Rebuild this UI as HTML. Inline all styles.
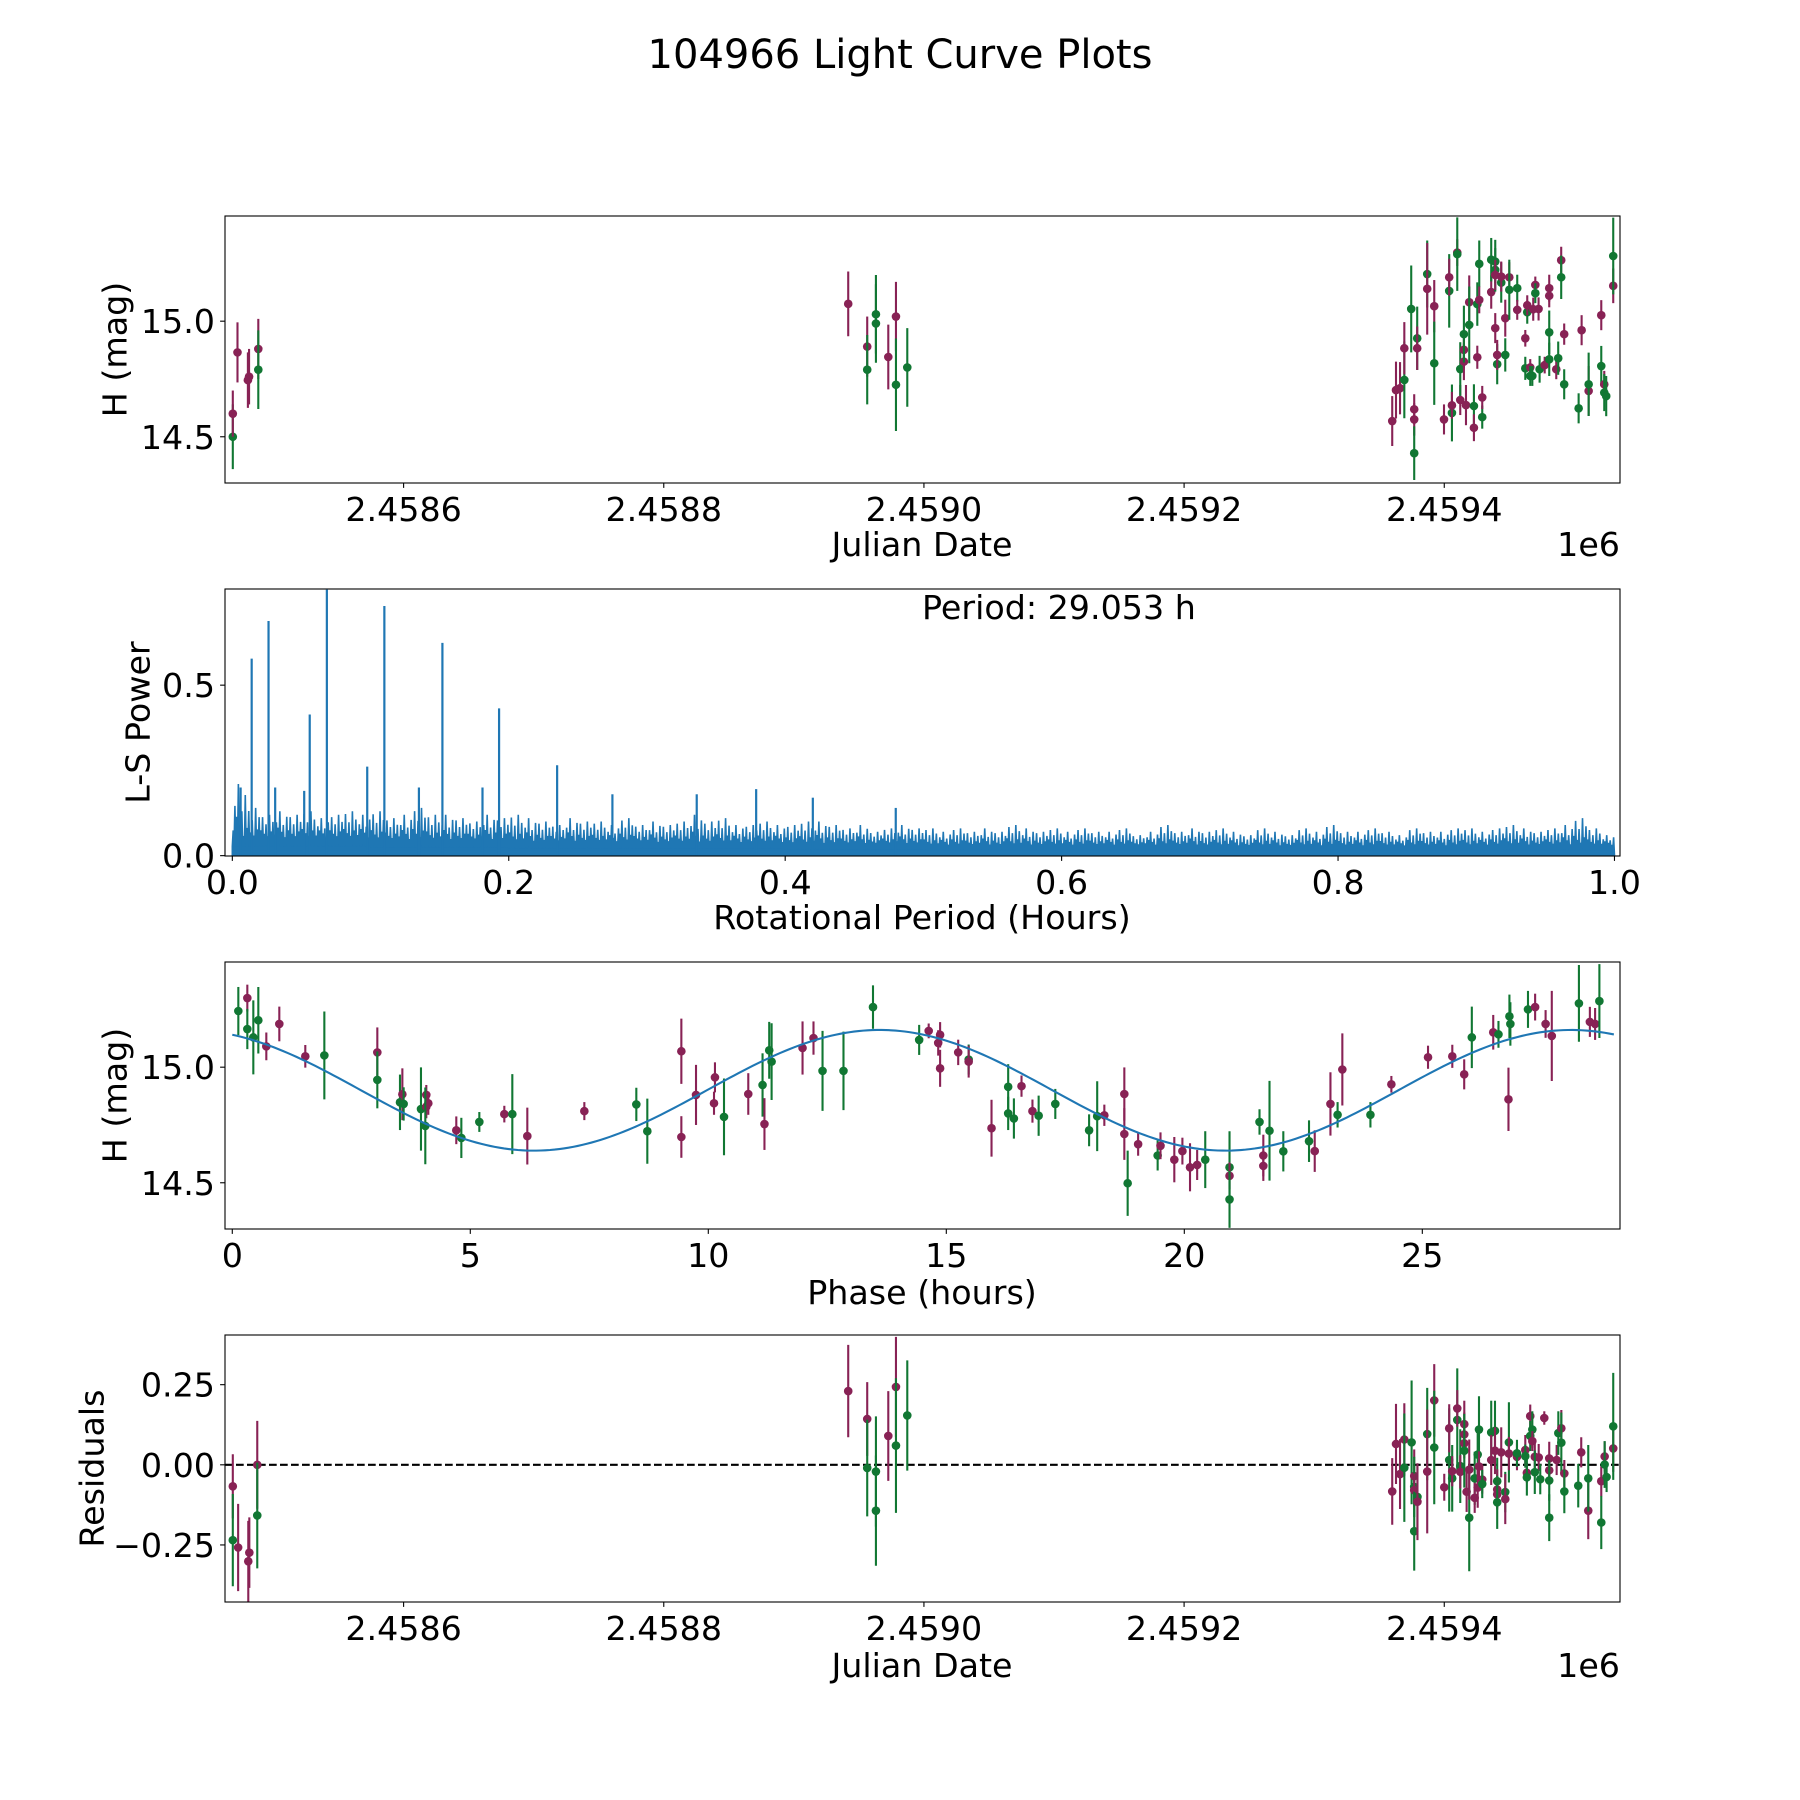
<!DOCTYPE html>
<html><head><meta charset="utf-8"><style>
html,body{margin:0;padding:0;background:#fff;}
svg{display:block;}
text{font-family:"DejaVu Sans","Liberation Sans",sans-serif;fill:#000;}
</style></head>
<body>
<svg id="fig" width="1800" height="1800" viewBox="0 0 1800 1800" xmlns="http://www.w3.org/2000/svg">
<rect width="1800" height="1800" fill="#fff"/>
<text x="900" y="68" font-size="40" text-anchor="middle">104966 Light Curve Plots</text>
<text x="922" y="619" font-size="33.3">Period: 29.053 h</text>
</svg>
<script>
// ---------- data ----------
const JD0 = 2459400;
const lcDays = [-931.3,-931.3,-927.7,-919.7,-918.8,-911.7,-911.7,
 -458.2,-443.6,-443.6,-436.9,-436.9,-427.4,-421.5,-421.5,-412.8,
 -40.0,-37.1,-34.0,-30.7,-30.7,-25.4,-23.1,-23.1,-23.1,-20.8,-20.8,-13.1,-13.1,-7.7,-7.7,-0.2,
 3.8,3.8,5.9,5.9,10,10,12.3,12.3,15.1,15.1,15.1,16.7,19.2,19.2,22.8,22.8,25.4,25.4,26.9,26.9,
 29.2,29.2,36.1,36.1,39.2,39.2,39.2,39.2,40.7,40.7,43.8,43.8,46.9,46.9,50,50,56.1,56.1,
 62.3,62.3,63.8,63.8,66.1,66.1,67.7,68.4,70,70,72.5,73.3,77.2,80.7,80.7,80.7,80.7,
 86.1,87.6,89.9,89.9,92.2,92.2,103.3,105.6,111,111,120.7,120.7,123,123,124.5,129.9,129.9];
const lcMag = [14.50,14.60,14.865,14.745,14.76,14.88,14.79,
 15.075,14.89,14.79,15.03,14.99,14.845,15.02,14.725,14.80,
 14.568,14.702,14.71,14.746,14.883,15.053,14.619,14.575,14.429,14.926,14.883,15.204,15.14,15.065,14.818,14.575,
 15.131,15.19,14.603,14.636,15.297,15.29,14.659,14.793,14.876,14.825,14.944,14.637,15.082,14.984,14.633,14.539,14.844,15.074,15.248,15.092,
 14.585,14.67,15.126,15.266,15.258,15.222,14.97,15.20,14.814,14.854,15.167,15.193,15.013,14.854,15.19,15.136,15.143,15.049,
 14.926,14.796,15.039,15.069,14.80,14.763,14.763,15.052,15.157,15.121,15.053,14.792,14.81,14.952,15.143,15.11,14.835,
 14.792,14.84,15.264,15.19,14.944,14.727,14.623,14.961,14.698,14.727,15.026,14.806,14.727,14.691,14.676,15.153,15.282];
const lcErr = [0.14,0.10,0.13,0.12,0.12,0.13,0.17,
 0.14,0.13,0.15,0.17,0.17,0.14,0.15,0.20,0.17,
 0.108,0.123,0.113,0.166,0.113,0.188,0.065,0.07,0.116,0.137,0.094,0.145,0.198,0.113,0.18,0.065,
 0.159,0.08,0.123,0.058,0.058,0.159,0.065,0.116,0.08,0.08,0.123,0.087,0.116,0.166,0.094,0.058,0.05,0.094,0.101,0.058,
 0.05,0.05,0.072,0.094,0.094,0.094,0.065,0.065,0.087,0.065,0.087,0.065,0.08,0.072,0.065,0.13,0.058,0.043,
 0.036,0.05,0.05,0.043,0.036,0.043,0.043,0.05,0.036,0.043,0.05,0.058,0.036,0.094,0.058,0.05,0.072,
 0.043,0.072,0.058,0.094,0.046,0.065,0.065,0.065,0.108,0.137,0.065,0.087,0.058,0.08,0.087,0.075,0.166];
const lcBand = ['g','r','r','r','r','r','g',
 'r','r','g','g','g','r','r','g','g',
 'r','r','r','g','r','g','r','r','g','g','r','g','r','r','g','r',
 'g','r','g','r','r','g','r','g','r','r','g','r','r','g','g','r','r','g','g','r',
 'g','r','r','g','g','g','r','r','g','r','g','r','r','g','r','g','g','r',
 'r','g','g','r','r','g','g','r','r','g','r','g','r','g','r','r','g',
 'r','g','r','g','r','g','g','r','r','g','r','g','r','g','g','r','g'];

const phHours = [0.127,0.316,0.316,0.442,0.547,0.715,0.988,1.534,1.934,3.047,3.047,3.523,3.573,3.6,3.964,4.076,4.076,4.118,4.055,
 4.706,4.812,5.19,5.715,5.883,6.198,7.396,8.488,8.719,9.434,9.434,
 9.742,10.14,10.12,10.33,10.84,11.14,11.18,11.28,11.33,11.98,12.21,12.4,12.84,13.46,14.43,14.63,14.87,14.83,14.87,15.25,15.47,15.47,
 16.3,16.3,16.58,16.42,16.81,16.94,17.29,15.95,18.0,18.17,18.32,18.74,18.74,18.81,19.03,19.44,
 19.5,19.79,19.96,20.12,20.27,20.44,20.95,20.95,20.95,21.58,21.66,21.66,21.79,22.08,22.62,22.74,23.07,23.22,23.32,23.91,24.35,
 25.12,25.63,25.88,26.04,26.49,26.6,26.83,26.85,26.81,27.22,27.37,27.59,27.72,28.29,28.52,28.63,28.72];
const phMag = [15.243,15.299,15.165,15.129,15.203,15.09,15.187,15.047,15.051,15.064,14.945,14.848,14.883,14.841,14.819,14.88,14.829,14.844,14.746,
 14.727,14.694,14.763,14.797,14.797,14.702,14.81,14.839,14.723,15.069,14.698,
 14.88,14.956,14.844,14.785,14.884,14.923,14.754,15.073,15.024,15.083,15.126,14.984,14.984,15.26,15.118,15.157,15.14,15.105,14.995,15.064,15.033,15.024,
 14.915,14.80,14.918,14.778,14.81,14.79,14.841,14.736,14.727,14.788,14.792,14.884,14.711,14.498,14.667,14.618,
 14.66,14.60,14.637,14.567,14.577,14.60,14.567,14.53,14.428,14.763,14.618,14.573,14.725,14.636,14.68,14.637,14.841,14.794,14.99,14.794,14.926,
 15.043,15.047,14.969,15.129,15.151,15.142,15.22,15.187,14.861,15.25,15.26,15.187,15.135,15.276,15.196,15.187,15.286];
const phErr = [0.104,0.058,0.087,0.16,0.144,0.06,0.075,0.049,0.19,0.108,0.123,0.12,0.112,0.072,0.18,0.043,0.05,0.05,0.166,
 0.06,0.087,0.043,0.036,0.173,0.123,0.039,0.072,0.141,0.141,0.09,
 0.13,0.065,0.05,0.166,0.09,0.137,0.112,0.123,0.166,0.115,0.072,0.173,0.17,0.094,0.065,0.032,0.055,0.055,0.08,0.055,0.065,0.069,
 0.098,0.072,0.046,0.087,0.05,0.087,0.065,0.123,0.069,0.151,0.046,0.115,0.112,0.141,0.05,0.065,
 0.058,0.098,0.058,0.104,0.065,0.123,0.156,0.058,0.123,0.055,0.09,0.065,0.216,0.087,0.09,0.09,0.137,0.055,0.156,0.055,0.036,
 0.05,0.05,0.065,0.133,0.075,0.058,0.094,0.094,0.137,0.08,0.058,0.06,0.195,0.166,0.065,0.069,0.16];
const phBand = ['g','r','g','g','g','r','r','r','g','r','g','g','r','g','g','r','r','r','g',
 'r','g','g','r','g','r','r','g','g','r','r',
 'r','r','r','g','r','g','r','g','g','r','r','g','g','g','g','r','r','r','r','r','g','r',
 'g','g','r','g','r','g','g','r','g','g','r','r','r','g','r','g',
 'r','r','r','r','r','g','g','r','g','g','r','r','g','g','g','r','r','g','r','g','r',
 'r','r','r','g','r','g','g','g','r','g','r','r','r','g','r','r','g'];
const modelPeriod = 29.053, modelMean = 14.90, modelAmp = 0.261, modelPeakHour = 13.6;

const resDays = [-931.3,-931.3,-927.2,-919.4,-918.6,-912.5,-912.5,
 -458.2,-443.6,-443.6,-436.9,-436.9,-427.4,-421.5,-421.5,-412.8,
 -40.0,-37.1,-34.0,-30.7,-30.7,-25.1,-23.1,-23.1,-23.1,-23.1,-20.6,-20.6,-13.1,-13.1,-7.7,-7.7,0,3.8,3.8,6.1,6.1,
 10.0,10.0,12.3,12.3,15.4,15.4,15.4,15.4,17.2,19.2,19.2,23.4,23.4,25.7,25.7,26.7,26.7,29.2,29.2,
 36.1,36.1,39.0,39.0,40.7,40.7,40.7,40.7,43.8,46.9,46.9,49.7,49.7,55.9,55.9,62.3,62.3,66.1,66.1,67.7,67.7,63.5,63.5,
 69.6,72.6,69.6,73.8,76.9,80.7,80.7,80.7,80.7,86.4,87.7,90,90,92.3,92.3,103,105.3,110.7,110.7,120.7,120.7,123.3,123.3,124.8,129.9,129.9];
const resVal = [-0.067,-0.235,-0.258,-0.301,-0.274,0.0,-0.158,
 0.230,0.143,-0.010,-0.021,-0.143,0.090,0.243,0.060,0.154,
 -0.083,0.065,-0.029,0.079,-0.009,0.070,-0.035,-0.069,-0.079,-0.207,-0.10,-0.115,0.096,-0.021,0.201,0.054,-0.07,0.015,0.114,-0.042,-0.02,
 0.14,0.176,-0.004,-0.022,0.127,0.095,0.067,0.044,-0.084,-0.165,-0.015,-0.042,-0.103,0.032,-0.071,0.11,-0.005,-0.046,-0.06,
 0.101,0.015,0.106,0.044,-0.051,-0.077,-0.092,-0.117,0.039,-0.085,-0.107,0.07,0.035,0.025,0.036,0.046,0.027,0.152,0.09,0.11,0.074,-0.025,-0.039,
 0.025,0.023,-0.023,-0.045,0.146,0.02,-0.017,-0.049,-0.165,0.015,0.099,0.114,0.069,-0.027,-0.083,-0.065,0.039,-0.143,-0.042,-0.051,-0.18,0.026,0.001,-0.038,0.051,0.12];
const resErr = [0.1,0.144,0.136,0.126,0.11,0.137,0.165,
 0.144,0.115,0.151,0.172,0.172,0.14,0.156,0.21,0.172,
 0.104,0.125,0.109,0.113,0.169,0.193,0.083,0.094,0.052,0.123,0.099,0.12,0.144,0.193,0.113,0.177,0.042,0.161,0.075,0.104,0.047,
 0.161,0.057,0.115,0.052,0.073,0.068,0.047,0.115,0.063,0.167,0.094,0.083,0.047,0.073,0.063,0.104,0.047,0.044,0.044,
 0.099,0.078,0.094,0.073,0.073,0.063,0.042,0.083,0.078,0.063,0.078,0.125,0.052,0.042,0.042,0.047,0.036,0.036,0.047,0.057,0.031,0.031,0.057,
 0.042,0.042,0.068,0.047,0.021,0.052,0.042,0.063,0.073,0.047,0.068,0.057,0.094,0.042,0.068,0.068,0.047,0.089,0.104,0.047,0.083,0.047,0.073,0.047,0.073,0.167];
const resBand = ['r','g','r','r','r','r','g',
 'r','r','g','g','g','r','r','g','g',
 'r','r','r','r','g','g','r','g','r','g','g','r','g','r','r','g','r','g','r','g','r',
 'g','r','g','r','r','r','r','g','r','g','r','g','r','g','r','g','r','r','g',
 'g','r','g','r','g','r','r','g','r','g','r','g','r','r','g','r','g','r','g','g','r','r','g',
 'r','r','g','g','r','r','r','g','g','r','g','r','g','r','g','g','r','r','g','r','g','r','g','g','r','g'];

const lsBinPeak = [0.21,0.14,0.12,0.13,0.12,0.13,0.11,0.12,0.13,0.12,
 0.13,0.11,0.12,0.14,0.12,0.12,0.11,0.10,0.12,0.11,
 0.12,0.11,0.10,0.09,0.11,0.10,0.10,0.09,0.11,0.09,
 0.10,0.09,0.10,0.12,0.10,0.11,0.09,0.09,0.10,0.09,
 0.09,0.10,0.10,0.09,0.08,0.09,0.07,0.08,0.09,0.08,
 0.08,0.07,0.08,0.07,0.08,0.07,0.09,0.08,0.07,0.08,
 0.07,0.08,0.07,0.07,0.08,0.06,0.07,0.09,0.07,0.08,
 0.07,0.08,0.07,0.06,0.08,0.07,0.06,0.08,0.07,0.09,
 0.07,0.07,0.08,0.07,0.06,0.08,0.07,0.07,0.08,0.08,
 0.07,0.08,0.09,0.08,0.07,0.08,0.09,0.11,0.08,0.06];
const lsFloor = [0.05,0.045,0.04,0.037,0.034,0.03,0.03,0.028,0.028,0.03];
const lsPeakPeriod = [0.006,0.014,0.0262,0.031,0.052,0.056,0.0684,0.0976,0.110,0.135,0.152,0.181,0.193,0.235,0.275,0.336,0.379,0.42,0.48];
const lsPeakPower  = [0.20,0.578,0.688,0.20,0.19,0.414,0.78,0.261,0.732,0.20,0.624,0.20,0.432,0.265,0.18,0.18,0.195,0.17,0.14];

// ---------- drawing ----------
const NS = 'http://www.w3.org/2000/svg';
const svg = document.getElementById('fig');
const PURPLE = '#882255', GREEN = '#117733', BLUE = '#1f77b4';
const FS = 33.3;
const L = 225, R = 1620;
function mk(tag, attrs, parent) {
  const e = document.createElementNS(NS, tag);
  for (const k in attrs) e.setAttribute(k, attrs[k]);
  (parent || svg).appendChild(e);
  return e;
}
function lin(d0, d1, p0, p1) { return v => p0 + (v - d0) * (p1 - p0) / (d1 - d0); }
function makeAxes(name, top, bot, xlim, ylim) {
  const g = mk('g', {});
  
  
  const cp = mk('clipPath', {id: 'clip-' + name}, g);
  mk('rect', {x: L, y: top, width: R - L, height: bot - top}, cp);
  const plot = mk('g', {'clip-path': 'url(#clip-' + name + ')'}, g);
  return {g, plot, top, bot, x: lin(xlim[0], xlim[1], L, R), y: lin(ylim[0], ylim[1], bot, top)};
}
function frame(ax) {
  const f = mk('rect', {x: L, y: ax.top, width: R - L, height: ax.bot - ax.top, fill: 'none', stroke: '#000', 'stroke-width': 1.1}, ax.g);
  
  
}
function xticks(ax, vals, labels) {
  vals.forEach((v, i) => {
    const px = ax.x(v);
    mk('line', {x1: px, x2: px, y1: ax.bot, y2: ax.bot + 4.9, stroke: '#000', 'stroke-width': 1.1}, ax.g);
    const t = mk('text', {x: px, y: ax.bot + 38, 'font-size': FS, 'text-anchor': 'middle'}, ax.g);
    
    
    t.textContent = labels[i];
  });
}
function yticks(ax, vals, labels) {
  vals.forEach((v, i) => {
    const py = ax.y(v);
    mk('line', {x1: L - 4.9, x2: L, y1: py, y2: py, stroke: '#000', 'stroke-width': 1.1}, ax.g);
    const t = mk('text', {x: L - 10, y: py + 12, 'font-size': FS, 'text-anchor': 'end'}, ax.g);
    
    
    t.textContent = labels[i];
  });
}
function label(ax, txt, x, y, rot, name) {
  const t = mk('text', {x: x, y: y, 'font-size': FS, 'text-anchor': 'middle'}, ax.g);
  if (rot) { t.setAttribute('transform', 'rotate(-90 ' + x + ' ' + y + ')'); t.setAttribute('dominant-baseline', 'central'); }
  
  
  t.textContent = txt;
}
function errorbars(ax, xs, ys, es, bands, name) {
  xs.forEach((xv, i) => {
    const c = bands[i] === 'g' ? GREEN : PURPLE;
    const px = ax.x(xv);
    const bar = mk('line', {x1: px, x2: px, y1: ax.y(ys[i] - es[i]), y2: ax.y(ys[i] + es[i]), stroke: c, 'stroke-width': 2.1}, ax.plot);
    
    
    const dot = mk('circle', {cx: px, cy: ax.y(ys[i]), r: 4.3, fill: c}, ax.plot);
    
    
  });
}
const jdTicks = [-800, -600, -400, -200, 0];
const jdLabels = ['2.4586', '2.4588', '2.4590', '2.4592', '2.4594'];

// Panel 1
const a1 = makeAxes('light-curve-panel', 216, 483, [-937.3, 135.1], [14.30, 15.455]);
errorbars(a1, lcDays, lcMag, lcErr, lcBand, 'light-curve');
frame(a1);
xticks(a1, jdTicks, jdLabels);
yticks(a1, [14.5, 15.0], ['14.5', '15.0']);
label(a1, 'Julian Date', 922, 556, false, 'x-axis-title');
label(a1, 'H (mag)', 115, 349.5, true, 'y-axis-title');
{ const t = mk('text', {x: R, y: 556, 'font-size': FS, 'text-anchor': 'end'}, a1.g);   t.textContent = '1e6'; }

// Panel 2: periodogram
const a2 = makeAxes('periodogram-panel', 589, 856, [-0.0053, 1.004], [-0.001, 0.782]);
{
  const binW = 0.01;
  const pattA = [0.35, 0.9, 0.2, 0.6, 0.1, 1.0, 0.3, 0.7];
  const pattB = [0.15, 0.6, 0.4, 1.0, 0.25, 0.5, 0.05, 0.8];
  let d = 'M' + a2.x(0) + ' ' + a2.y(0);
  lsBinPeak.forEach((p, i) => {
    const f = lsFloor[Math.floor(i / 10)];
    const patt = (i % 3 === 0) ? pattB : pattA;
    const n = patt.length * 2;
    patt.forEach((w, k) => {
      const xa = a2.x((i + (2 * k) / n) * binW);
      const xb = a2.x((i + (2 * k + 1) / n) * binW);
      d += ' L' + xa.toFixed(2) + ' ' + a2.y(f * 0.55).toFixed(2);
      d += ' L' + xb.toFixed(2) + ' ' + a2.y(f + (p - f) * w).toFixed(2);
    });
  });
  d += ' L' + a2.x(1.0) + ' ' + a2.y(0) + ' Z';
  const area = mk('path', {d: d, fill: BLUE, stroke: BLUE, 'stroke-width': 1.6, 'stroke-linejoin': 'miter'}, a2.plot);
  
  
  const floorRect = mk('rect', {x: a2.x(0), y: a2.y(0.015), width: a2.x(1.0) - a2.x(0), height: a2.y(0) - a2.y(0.015), fill: BLUE}, a2.plot);
  
  
  lsPeakPeriod.forEach((p, i) => {
    const px = a2.x(p);
    const ln = mk('line', {x1: px, x2: px, y1: a2.y(0), y2: a2.y(lsPeakPower[i]), stroke: BLUE, 'stroke-width': 2.2}, a2.plot);
    
    
  });
}
frame(a2);
xticks(a2, [0, 0.2, 0.4, 0.6, 0.8, 1.0], ['0.0', '0.2', '0.4', '0.6', '0.8', '1.0']);
yticks(a2, [0, 0.5], ['0.0', '0.5']);
label(a2, 'Rotational Period (Hours)', 922, 929, false, 'x-axis-title');
label(a2, 'L-S Power', 138, 722.5, true, 'y-axis-title');

// Panel 3
const a3 = makeAxes('phase-panel', 962, 1229, [-0.153, 29.153], [14.30, 15.455]);
errorbars(a3, phHours, phMag, phErr, phBand, 'phase');
{
  let d = '';
  for (let k = 0; k <= 300; k++) {
    const h = modelPeriod * k / 300 * 0.999;
    const m = modelMean + modelAmp * Math.cos(4 * Math.PI * (h - modelPeakHour) / modelPeriod);
    d += (k ? ' L' : 'M') + a3.x(h).toFixed(2) + ' ' + a3.y(m).toFixed(2);
  }
  const c = mk('path', {d: d, fill: 'none', stroke: BLUE, 'stroke-width': 2.1}, a3.plot);
  
  
}
frame(a3);
xticks(a3, [0, 5, 10, 15, 20, 25], ['0', '5', '10', '15', '20', '25']);
yticks(a3, [14.5, 15.0], ['14.5', '15.0']);
label(a3, 'Phase (hours)', 922, 1304, false, 'x-axis-title');
label(a3, 'H (mag)', 115, 1095.5, true, 'y-axis-title');

// Panel 4
const a4 = makeAxes('residuals-panel', 1335, 1602, [-937.3, 135.1], [-0.428, 0.405]);
{
  const z = mk('line', {x1: L, x2: R, y1: a4.y(0), y2: a4.y(0), stroke: '#000', 'stroke-width': 2.1, 'stroke-dasharray': '7.7 3.3'}, a4.plot);
  
  
}
errorbars(a4, resDays, resVal, resErr, resBand, 'residual');
frame(a4);
xticks(a4, jdTicks, jdLabels);
yticks(a4, [-0.25, 0, 0.25], ['\u22120.25', '0.00', '0.25']);
label(a4, 'Julian Date', 922, 1677, false, 'x-axis-title');
label(a4, 'Residuals', 92, 1468.5, true, 'y-axis-title');
{ const t = mk('text', {x: R, y: 1677, 'font-size': FS, 'text-anchor': 'end'}, a4.g);   t.textContent = '1e6'; }
</script>
</body></html>
